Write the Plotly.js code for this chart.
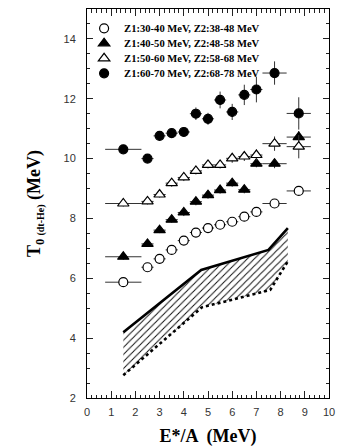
<!DOCTYPE html>
<html>
<head>
<meta charset="utf-8">
<script src="https://cdn.plot.ly/plotly-3.0.1.min.js"></script>
<style>html,body{margin:0;padding:0;background:#fff;}#chart{width:346px;height:447px;}</style>
</head>
<body>
<div id="chart"></div>
<script>
// ---- data ----
const seriesNames = [
  "Z1:30-40 MeV, Z2:38-48 MeV",
  "Z1:40-50 MeV, Z2:48-58 MeV",
  "Z1:50-60 MeV, Z2:58-68 MeV",
  "Z1:60-70 MeV, Z2:68-78 MeV"
];
const eStar = [1.5, 2.5, 3.0, 3.5, 4.0, 4.5, 5.0, 5.5, 6.0, 6.5, 7.0, 7.75, 8.75];
const eStarErr = [0.75, 0.25, 0.25, 0.25, 0.25, 0.25, 0.25, 0.25, 0.25, 0.25, 0.25, 0.5, 0.5];

const t0_30_40 = [5.87, 6.37, 6.65, 6.95, 7.26, 7.53, 7.68, 7.79, 7.89, 8.06, 8.22, 8.50, 8.92];
const err_30_40 = [0.08, 0.1, 0.1, 0.1, 0.1, 0.1, 0.1, 0.1, 0.1, 0.1, 0.1, 0.1, 0.1];

const t0_40_50 = [6.72, 7.15, 7.61, 7.96, 8.20, 8.56, 8.78, 8.95, 9.18, 8.96, 9.83, 9.83, 10.72];
const err_40_50 = [0.1, 0.1, 0.1, 0.1, 0.12, 0.12, 0.12, 0.12, 0.12, 0.12, 0.12, 0.15, 0.2];

const t0_50_60 = [8.50, 8.57, 8.80, 9.18, 9.37, 9.59, 9.79, 9.79, 10.01, 10.07, 10.12, 10.50, 10.40];
const err_50_60 = [0.1, 0.1, 0.1, 0.12, 0.12, 0.12, 0.12, 0.12, 0.15, 0.15, 0.18, 0.24, 0.39];

const t0_60_70 = [10.31, 10.00, 10.76, 10.85, 10.89, 11.50, 11.33, 11.96, 11.56, 12.13, 12.31, 12.86, 11.51];
const err_60_70 = [0.1, 0.1, 0.15, 0.15, 0.15, 0.21, 0.2, 0.28, 0.27, 0.34, 0.43, 0.39, 0.54];

const bandUpperX = [1.5, 4.72, 7.5, 8.3];
const bandUpperY = [4.2, 6.28, 6.95, 7.68];
const bandLowerX = [1.5, 4.75, 7.57, 8.3];
const bandLowerY = [2.76, 5.03, 5.61, 6.57];

const xTicks = [0, 1, 2, 3, 4, 5, 6, 7, 8, 9, 10];
const yTicks = [2, 4, 6, 8, 10, 12, 14];

// ---- traces ----
const barColor = '#333';
function pts(name, y, yerr, symbol, fill, legendId) {
  return {
    type: 'scatter', mode: 'markers', name: name, legend: legendId,
    x: eStar, y: y,
    error_x: {type: 'data', array: eStarErr, visible: true, width: 0, thickness: 1, color: barColor},
    error_y: {type: 'data', array: yerr, visible: true, width: 0, thickness: 1, color: barColor},
    marker: {symbol: symbol, size: symbol.indexOf('triangle') === 0 ? 10 : 9, color: fill,
             line: {color: 'black', width: 1.2}},
    cliponaxis: false
  };
}

const traces = [
  {type: 'scatter', mode: 'lines', x: bandLowerX, y: bandLowerY, showlegend: false,
   line: {color: 'black', width: 2.6, dash: 'dot'}},
  {type: 'scatter', mode: 'lines', x: bandUpperX, y: bandUpperY, showlegend: false,
   fill: 'tonexty', fillcolor: 'rgba(0,0,0,0)',
   fillpattern: {shape: '/', size: 5, solidity: 0.2, fgcolor: '#111', bgcolor: 'rgba(255,255,255,0)'},
   line: {color: 'black', width: 2.6}},
  pts(seriesNames[0], t0_30_40, err_30_40, 'circle', 'white', 'legend'),
  pts(seriesNames[1], t0_40_50, err_40_50, 'triangle-up', 'black', 'legend2'),
  pts(seriesNames[2], t0_50_60, err_50_60, 'triangle-up', 'white', 'legend3'),
  pts(seriesNames[3], t0_60_70, err_60_70, 'circle', 'black', 'legend4')
];

const legFont = {family: 'Liberation Serif, Times New Roman, serif', size: 10.6, weight: 'bold', color: 'black'};
function leg(y) {
  return {x: -0.012, y: y, xanchor: 'left', yanchor: 'top', bgcolor: 'rgba(0,0,0,0)',
          borderwidth: 0, font: legFont};
}

const tickFont = {family: 'Liberation Sans, Arial, sans-serif', size: 11, color: '#333'};
const titleFont = {family: 'Liberation Serif, Times New Roman, serif', size: 18, weight: 'bold', color: 'black'};

const layout = {
  width: 346, height: 447,
  margin: {l: 87, r: 17, t: 9, b: 49},
  paper_bgcolor: 'white', plot_bgcolor: 'white',
  showlegend: true,
  legend: leg(0.9877),
  legend2: leg(0.9491),
  legend3: leg(0.9105),
  legend4: leg(0.8720),
  xaxis: {
    range: [0, 10], tickvals: xTicks, ticktext: xTicks.map(String),
    ticks: 'inside', ticklen: 7, tickwidth: 1, tickcolor: '#222',
    minor: {dtick: 0.2, ticks: 'inside', ticklen: 3.5, tickcolor: '#222', showgrid: false},
    showline: true, linecolor: 'black', linewidth: 1, mirror: 'ticks',
    showgrid: false, zeroline: false, tickfont: tickFont, ticklabelstandoff: 4,
    title: {text: 'E*/A  (MeV)', font: titleFont, standoff: 14},
    automargin: false
  },
  yaxis: {
    range: [2, 15], tickvals: yTicks, ticktext: yTicks.map(String),
    ticks: 'inside', ticklen: 6, tickwidth: 1, tickcolor: '#222',
    minor: {dtick: 0.5, ticks: 'inside', ticklen: 3, tickcolor: '#222', showgrid: false},
    showline: true, linecolor: 'black', linewidth: 1, mirror: 'ticks',
    showgrid: false, zeroline: false, tickfont: tickFont, ticklabelstandoff: 8,
    title: {text: "T<sub>0 <span style='font-size:10px'>(dt-He)</span></sub> (MeV)", font: titleFont, standoff: 18},
    automargin: false
  }
};

Plotly.newPlot('chart', traces, layout, {staticPlot: true, displayModeBar: false});
</script>
</body>
</html>
